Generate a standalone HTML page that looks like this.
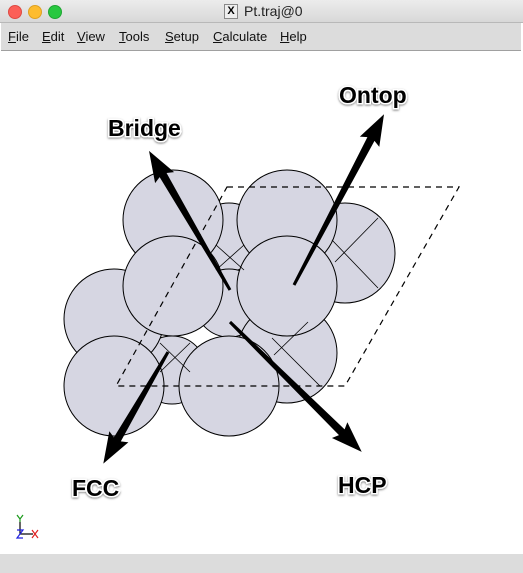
<!DOCTYPE html>
<html><head><meta charset="utf-8"><style>
html,body{margin:0;padding:0;width:523px;height:573px;overflow:hidden;background:#fff;font-family:"Liberation Sans",sans-serif}
.title{position:absolute;left:0;top:0;width:523px;height:22px;background:linear-gradient(#ececec,#d8d8d8);border-bottom:1px solid #b8b8b8}
.dot{position:absolute;top:5px;width:12px;height:12px;border-radius:50%}
.menu{position:absolute;top:23px;left:1px;width:520px;height:27px;background:#dcdcdc;border-bottom:1px solid #a0a0a0;font-size:13px;color:#111}
.menu span{position:absolute;top:6px}
.status{position:absolute;left:0;top:554px;width:523px;height:19px;background:#dcdcdc}
.lbl{font-family:"Liberation Sans",sans-serif;font-weight:bold;font-size:23px;fill:#000;stroke:#fff;stroke-width:3px;paint-order:stroke}
</style></head><body>
<div class="title">
<div class="dot" style="left:8px;background:#fc5f57;border:0.5px solid #de4a42"></div>
<div class="dot" style="left:28px;background:#fdbc2e;border:0.5px solid #dea122"></div>
<div class="dot" style="left:48px;background:#28c840;border:0.5px solid #1fa533"></div>
<div style="position:absolute;left:224px;top:4px;width:12px;height:13px;border:1px solid #888;background:#eee;font-size:11px;line-height:13px;text-align:center;font-weight:bold">X</div>
<div style="position:absolute;left:244px;top:3px;font-size:14px;color:#222">Pt.traj@0</div>
</div>
<div class="menu">
<span style="left:7px"><u>F</u>ile</span><span style="left:41px"><u>E</u>dit</span><span style="left:76px"><u>V</u>iew</span><span style="left:118px"><u>T</u>ools</span><span style="left:164px"><u>S</u>etup</span><span style="left:212px"><u>C</u>alculate</span><span style="left:279px"><u>H</u>elp</span>
</div>
<svg width="523" height="573" style="position:absolute;left:0;top:0">
<defs><filter id="sh" x="-20%" y="-20%" width="140%" height="140%"><feDropShadow dx="0" dy="1" stdDeviation="1" flood-color="#000" flood-opacity="0.5"/></filter></defs>
<g fill="#d6d6e2" stroke="#000" stroke-width="1">
<circle cx="229" cy="237" r="34"/>
<circle cx="229" cy="303" r="34"/>
<circle cx="172" cy="370" r="34"/>
<circle cx="345" cy="253" r="50"/>
<circle cx="287" cy="353" r="50"/>
<circle cx="114" cy="319" r="50"/>
<circle cx="173" cy="220" r="50"/>
<circle cx="287" cy="220" r="50"/>
<circle cx="173" cy="286" r="50"/>
<circle cx="287" cy="286" r="50"/>
<circle cx="114" cy="386" r="50"/>
<circle cx="229" cy="386" r="50"/>
</g>
<g stroke="#000" stroke-width="0.8">
<line x1="216" y1="245" x2="244" y2="270"/><line x1="244" y1="245" x2="216" y2="270"/>
<line x1="332" y1="240" x2="378" y2="288"/><line x1="378" y1="218" x2="335" y2="262"/>
<line x1="160" y1="343" x2="190" y2="372"/><line x1="190" y1="343" x2="160" y2="372"/>
<line x1="272" y1="338" x2="320" y2="386"/><line x1="308" y1="322" x2="274" y2="355"/>
</g>
<polygon points="227,187 459,187 345,386 116,386" fill="none" stroke="#000" stroke-width="1.2" stroke-dasharray="6,5"/>
<g fill="#000">
<g transform="translate(230,290) rotate(-120.2)"><polygon points="0,-1.5 133,-4 130,-11 161,0 130,11 133,4 0,1.5"/></g>
<g transform="translate(294,285) rotate(-62.2)"><polygon points="0,-1.5 165,-4 162,-11 193,0 162,11 165,4 0,1.5"/></g>
<g transform="translate(168,352) rotate(120.1)"><polygon points="0,-1.5 101,-4 98,-11 129,0 98,11 101,4 0,1.5"/></g>
<g transform="translate(230,322) rotate(44.6)"><polygon points="0,-1.5 157,-4 154,-11 185,0 154,11 157,4 0,1.5"/></g>
</g>
<g filter="url(#sh)">
<text class="lbl" x="108" y="136">Bridge</text>
<text class="lbl" x="339" y="103">Ontop</text>
<text class="lbl" x="72" y="496">FCC</text>
<text class="lbl" x="338" y="493">HCP</text>
</g>
<g stroke-width="1.2" fill="none">
<line x1="20" y1="534" x2="20" y2="522" stroke="#000"/><line x1="20" y1="534" x2="33" y2="534" stroke="#000"/>
<path d="M17,515 L20,519 L23,515 M20,519 L20,522" stroke="#1a9a1a"/>
<path d="M32,530 L38,538 M38,530 L32,538" stroke="#e02020"/>
<path d="M17,530 L23,530 L17,538 L23,538" stroke="#2020e0"/>
</g>
</svg>
<div class="status"></div>
</body></html>
